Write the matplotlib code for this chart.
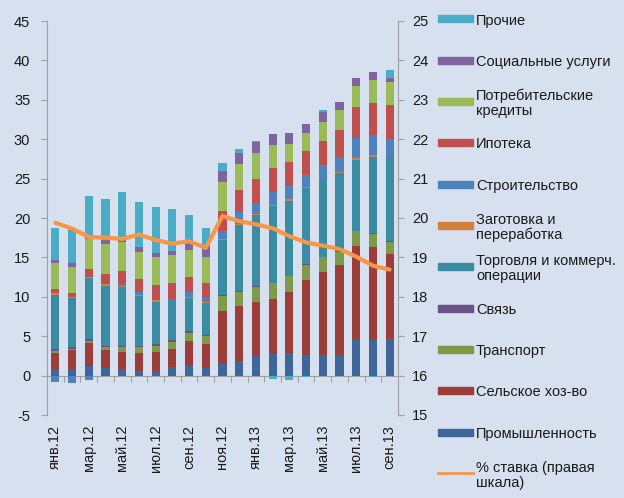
import matplotlib.pyplot as plt
import numpy as np
from matplotlib.patches import Rectangle
from matplotlib.lines import Line2D

plt.rcParams['font.family'] = ['Liberation Sans', 'DejaVu Sans']
plt.rcParams['axes.unicode_minus'] = False

# Данные (млрд), янв.12 - сен.13
months = ['янв.12', 'фев.12', 'мар.12', 'апр.12', 'май.12', 'июн.12', 'июл.12',
          'авг.12', 'сен.12', 'окт.12', 'ноя.12', 'дек.12', 'янв.13', 'фев.13',
          'мар.13', 'апр.13', 'май.13', 'июн.13', 'июл.13', 'авг.13', 'сен.13']

prom = [0.8, 0.8, 1.2, 1.0, 0.9, 0.6, 0.6, 1.1, 1.3, 1.0, 1.5, 1.9, 2.6, 2.8, 2.9, 2.6, 2.6, 2.6, 4.7, 4.6, 4.6]
agri = [2.1, 2.4, 3.0, 2.2, 2.1, 2.3, 2.4, 2.3, 3.1, 3.0, 6.7, 6.9, 6.8, 6.9, 7.7, 9.5, 10.5, 11.4, 11.8, 11.7, 10.8]
transport = [0.2, 0.2, 0.2, 0.4, 0.6, 0.7, 0.7, 0.9, 1.0, 1.0, 1.9, 1.8, 1.9, 2.0, 2.0, 1.9, 1.9, 1.7, 1.8, 1.7, 1.6]
svyaz = [0.25, 0.2, 0.25, 0.1, 0.15, 0.15, 0.25, 0.2, 0.2, 0.2, 0.1, 0.1, 0.1, 0.1, 0.1, 0.1, 0.1, 0.1, 0.1, 0.1, 0.1]
trade = [6.9, 6.2, 7.7, 7.7, 7.5, 6.4, 5.4, 4.8, 4.3, 4.0, 7.0, 8.4, 9.0, 9.7, 9.5, 9.7, 9.8, 9.9, 9.0, 9.7, 10.6]
zagot = [0.2, 0.2, 0.1, 0.2, 0.1, 0.1, 0.2, 0.1, 0.1, 0.1, 0.1, 0.2, 0.1, 0.1, 0.2, 0.1, 0.1, 0.1, 0.2, 0.25, 0.1]
stroy = [-0.8, -0.95, -0.5, 0.0, 0.3, 0.3, 0.0, 0.3, 0.55, 0.7, 1.0, 1.4, 1.4, 1.7, 1.7, 1.5, 1.7, 1.9, 2.5, 2.5, 2.2]
ipoteka = [0.5, 0.5, 1.05, 1.35, 1.6, 1.7, 1.9, 2.0, 2.0, 1.8, 2.6, 2.9, 3.1, 3.1, 3.0, 3.1, 3.1, 3.5, 4.0, 4.1, 4.4]
potreb = [3.3, 3.3, 3.85, 3.7, 3.7, 3.4, 3.6, 3.6, 3.4, 3.3, 3.65, 3.3, 3.3, 2.9, 2.3, 2.3, 2.4, 2.5, 2.7, 2.9, 2.9]
social = [0.4, 0.5, 0.2, 0.6, 0.2, 0.7, 0.5, 0.55, 1.3, 1.4, 1.4, 1.3, 1.4, 1.4, 1.4, 1.1, 1.3, 1.0, 1.0, 1.0, 0.5]
prochie = [4.1, 4.25, 5.25, 5.1, 6.1, 5.7, 5.8, 5.3, 3.1, 2.2, 1.0, 0.5, 0.1, -0.4, -0.5, -0.2, 0.2, 0.0, 0.0, -0.2, 1.0]

rate = [19.88, 19.73, 19.52, 19.5, 19.47, 19.58, 19.44, 19.35, 19.41, 19.24, 20.05,
        19.92, 19.84, 19.74, 19.54, 19.38, 19.3, 19.21, 19.02, 18.79, 18.69]

# снизу вверх
series = [
    ('Промышленность', prom, '#3F6699'),
    ('Сельское хоз-во', agri, '#9C3D3A'),
    ('Транспорт', transport, '#7E9A48'),
    ('Связь', svyaz, '#6A5286'),
    ('Торговля и коммерч.\nоперации', trade, '#3A8CA3'),
    ('Заготовка и\nпереработка', zagot, '#D3803E'),
    ('Строительство', stroy, '#4F81BD'),
    ('Ипотека', ipoteka, '#C0504D'),
    ('Потребительские\nкредиты', potreb, '#9BBB59'),
    ('Социальные услуги', social, '#8064A2'),
    ('Прочие', prochie, '#4BACC6'),
]
line_label = '% ставка (правая\nшкала)'
line_color = '#F79646'

bg = '#D6E0EF'
gray = '#A0A0A0'
txt = '#1A1A1A'
fs = 10.5

fig = plt.figure(figsize=(6.24, 4.98), dpi=100, facecolor=bg)
ax = fig.add_axes([47 / 624, 83 / 498, 351 / 624, 394 / 498])
ax.set_facecolor(bg)

x = np.arange(len(months))
pos_bottom = np.zeros(len(x))
neg_bottom = np.zeros(len(x))
for name, vals, color in series:
    v = np.array(vals, dtype=float)
    bottom = np.where(v >= 0, pos_bottom, neg_bottom)
    ax.bar(x, v, 0.48, bottom=bottom, color=color, linewidth=0, zorder=2)
    pos_bottom += np.where(v >= 0, v, 0)
    neg_bottom += np.where(v < 0, v, 0)

ax.set_xlim(-0.5, len(x) - 0.5)
ax.set_ylim(-5, 45)
ax.set_yticks(range(-5, 50, 5))
for s in ['top', 'bottom', 'right']:
    ax.spines[s].set_visible(False)
ax.spines['left'].set_color(gray)
ax.tick_params(axis='y', direction='out', length=4, color=gray, labelsize=fs,
               labelcolor=txt, pad=8)
ax.set_xticks(x[::2])
ax.set_xticklabels(months[::2], rotation=90, fontsize=fs, color=txt)
ax.tick_params(axis='x', length=0, pad=7)

# нулевая линия с засечками между категориями
sec = ax.secondary_xaxis(0.1)
sec.set_xticks(np.arange(0.5, len(x) - 1, 1))
sec.set_xticklabels([])
sec.tick_params(direction='out', length=4, color=gray)
sec.spines['bottom'].set_color(gray)

ax2 = ax.twinx()
ax2.set_ylim(15, 25)
ax2.set_yticks(range(15, 26))
for s in ['top', 'bottom', 'left']:
    ax2.spines[s].set_visible(False)
ax2.spines['right'].set_color(gray)
ax2.tick_params(axis='y', direction='out', length=4, color=gray, labelsize=fs,
                labelcolor=txt, pad=6)
ax2.plot(x, rate, color=line_color, lw=3, solid_joinstyle='round',
         solid_capstyle='round', zorder=5)

# легенда справа (сверху вниз)
W, H = 624, 498
entries = [(n, c) for n, v, c in series[::-1]]
y0, step = 19, 41.3
for i, (name, color) in enumerate(entries):
    yc = H - (y0 + i * step)
    fig.patches.append(Rectangle((438 / W, (yc - 3.5) / H), 35 / W, 7 / H,
                                 transform=fig.transFigure, color=color))
    fig.text(476 / W, yc / H, name, fontsize=fs, color=txt, va='center_baseline',
             ha='left', linespacing=1.1)
yc = H - (y0 + len(entries) * step)
fig.lines.append(Line2D([438 / W, 473 / W], [yc / H, yc / H], transform=fig.transFigure,
                        color=line_color, lw=2))
fig.text(476 / W, yc / H, line_label, fontsize=fs, color=txt, va='center_baseline',
         ha='left', linespacing=1.1)

fig.savefig('out.png', dpi=100, facecolor=bg)
